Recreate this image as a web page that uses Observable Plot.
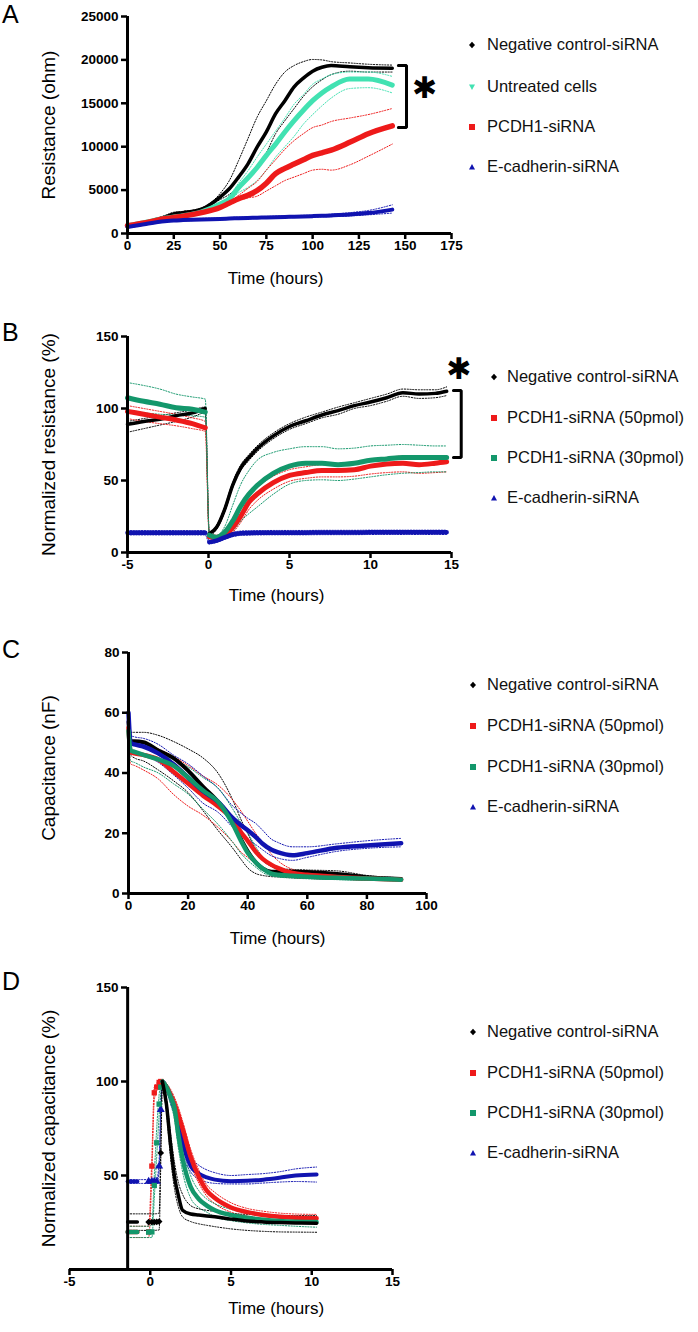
<!DOCTYPE html>
<html><head><meta charset="utf-8">
<script src="https://cdn.jsdelivr.net/npm/d3@7"></script>
<script src="https://cdn.jsdelivr.net/npm/@observablehq/plot@0.6"></script>
<style>
body{margin:0;background:#fff;font-family:"Liberation Sans",Arial,sans-serif;}
#root{position:relative;width:698px;height:1332px;overflow:hidden;background:#fff;}
#root > svg{position:absolute;left:0;}
.letter{position:absolute;font-size:25px;left:2px;line-height:1;}
.leg{position:absolute;font-size:16.5px;white-space:nowrap;line-height:1;color:#111;}
.mk{position:absolute;}
</style></head><body><div id="root"></div><script>
// ---------- Panel A : Resistance (ohm) ----------
const A_time = [0,10,20,25,30,40,50,55,60,65,70,75,80,85,90,95,100,105,110,120,130,143];
const A_neg_mean = [850,1300,1880,2250,2400,2800,4200,5150,6500,8000,9950,11700,13800,15300,16900,17900,18700,19150,19350,19200,19100,19050];
const A_neg_hi   = [950,1400,2050,2450,2550,2950,4600,6100,8400,10900,13400,15300,17200,18600,19350,19800,20050,20000,19800,19650,19500,19400];
const A_neg_lo   = [780,1200,1750,2100,2300,2700,3900,4500,5300,6300,7500,9300,11500,13000,14400,15800,16900,17700,18300,18700,18600,18600];
const A_unt_mean = [900,1300,1750,1900,2050,2500,3400,4000,5300,6400,7600,9000,10300,11700,13000,14200,15300,16200,16900,17800,17800,17100];
const A_unt_hi   = [950,1380,1850,2000,2150,2650,3550,4300,5800,7200,8800,10300,11800,13300,14900,16000,17200,17800,18300,18600,18600,18100];
const A_unt_lo   = [850,1220,1650,1800,1950,2380,3250,3750,4700,5300,6100,7300,8800,10000,11200,12600,13700,14700,15600,16700,16800,16200];
const A_pc_mean  = [900,1250,1700,1850,2000,2400,3000,3500,4000,4400,4950,5800,6900,7500,8000,8500,9000,9300,9600,10500,11500,12400];
const A_pc_hi    = [950,1330,1800,1950,2100,2550,3200,3700,4400,5200,6000,7300,8500,9700,10700,11500,12200,12500,12900,13300,13700,14400];
const A_pc_lo    = [850,1170,1600,1750,1900,2280,2850,3300,3800,4100,4300,4900,5500,6100,6500,6900,7300,7400,7300,7900,8900,10300];
const A_ec_mean  = [750,1100,1400,1500,1550,1620,1680,1720,1760,1790,1820,1850,1880,1910,1940,1970,2000,2040,2080,2180,2350,2750];
const A_ec_hi    = [870,1220,1520,1620,1670,1740,1800,1840,1880,1910,1940,1970,2000,2030,2060,2090,2120,2170,2220,2400,2650,3300];
const A_ec_lo    = [650,1000,1300,1400,1450,1520,1580,1620,1660,1690,1720,1750,1780,1810,1840,1870,1900,1920,1950,2020,2150,2350];
const A_xticks = [0,25,50,75,100,125,150,175];
const A_yticks = [0,5000,10000,15000,20000,25000];
const A_bracket = [{x:146.3,y:19350},{x:150.7,y:19350},{x:150.7,y:12210},{x:146.3,y:12210}];
const A_star = [{x:160.5,y:16700}];

// ---------- Panel B : Normalized resistance (%) ----------
const B_time = [-5,-4,-3,-2,-1,-0.2,0.05,0.5,1,1.5,2,2.5,3,4,5,6,7,8,9,10,11,12,13,14,14.7];
const B_neg_mean = [89,91,92.5,95,97,100,13,17.5,30,47,59,66,72,81,87.5,91.5,95.5,98.5,102,104.5,107.5,111,110,110.5,112];
const B_neg_hi   = [91,93,95,97,99,101,14,19,32,49,61,68,74,83,89.5,94,97.5,101,104,107,110,113.5,113,113,115];
const B_neg_lo   = [83.5,86,88.5,91,94,97,12,16,28,45,57,64,70,79,85.5,89.5,93.5,96,100,102,105,108.5,107,107.5,109];
const B_p50_mean = [98,96,94,92,89.5,86.5,11,10.5,12,17.5,25.5,35,40.5,48.5,53.5,55.5,57,57,57.5,60,61.5,62,61,62,63];
const B_p50_hi   = [102,100,98,96,93.5,91,12,12,14,21,30,39,45,53,57.5,59.5,61,61,62,64.5,66,67,66,66.5,67];
const B_p50_lo   = [93,91,89.5,88,86,84,10,9,10,14,21,30,36,44,49.5,51.5,52.5,52.5,53,54.5,55.5,56,55,55.5,56];
const B_p30_mean = [107.5,105,103,100.5,99.5,97.5,12,10.5,14,22,32.5,40.5,46.5,55,60,62,62,61,62,64,65,66,66,66,66];
const B_p30_hi   = [118,116,113.5,110,108,106.5,13,12,18,33,47.5,57,64,69.5,72,73.5,73.5,72,72.5,74,74.5,75,74.5,74,74];
const B_p30_lo   = [98.5,97,96,95.5,95,94,11,9.5,11,15,22,27,31.5,40.5,47.5,50,50.5,50,51,52.5,54,55,55.5,56,56];
const B_ec_mean  = [13.7,13.7,13.7,13.7,13.7,13.7,7.2,8.3,10.5,12.5,13.4,13.6,13.7,13.8,13.8,13.8,13.9,13.9,13.9,14,14,14,14,14,14];
const B_ec_hi    = [15.2,15.2,15.2,15.2,15.2,15.2,8.4,9.6,11.9,14,14.9,15.1,15.2,15.3,15.3,15.3,15.4,15.4,15.4,15.5,15.5,15.5,15.5,15.5,15.5];
const B_ec_lo    = [12.2,12.2,12.2,12.2,12.2,12.2,6,7,9.1,11,11.9,12.1,12.2,12.3,12.3,12.3,12.4,12.4,12.4,12.5,12.5,12.5,12.5,12.5,12.5];
const B_xticks = [-5,0,5,10,15];
const B_yticks = [0,50,100,150];
const B_bracket = [{x:15.12,y:112.5},{x:15.6,y:112.5},{x:15.6,y:66},{x:15.12,y:66}];
const B_star = [{x:15.45,y:127.5}];

// ---------- Panel C : Capacitance (nF) ----------
const C_time = [0,0.7,2,5,10,15,20,25,30,35,38,40,43,45,48,50,55,60,70,80,91.5];
const C_neg_mean = [57,50.5,50.5,50.2,47.5,45,40.8,35.5,30.5,24,17.5,14,10,8.3,7.2,7.2,7.2,7.1,6.5,5.4,4.8];
const C_neg_hi   = [58,53.5,53.5,53.5,52.5,50.5,48,45,40,31,24,20,14,11,9,8.2,8,7.8,7.5,6,5.2];
const C_neg_lo   = [55,46,45,44,41,37.5,33.5,27.5,21,15,11,8.5,6.5,6,5.6,5.5,5.2,5,4.7,4.5,4.3];
const C_p50_mean = [55,47,46.5,46,44.5,40.5,36.5,32.5,29,24.5,20,17.5,13.5,11.5,9.5,8.5,6.8,6.2,5.5,5,4.6];
const C_p50_hi   = [56,51,50.5,50,48,45.5,42.5,39,36,31,27,24,19.5,17,13,11,8,7,6,5.5,5];
const C_p50_lo   = [53,43,42.5,41,38,33,29,26,22,17,13.5,12,9.5,8,6.8,6,5.3,5,4.8,4.5,4.2];
const C_p30_mean = [54,47.5,47,46,44.5,42.5,38.5,34.2,30.5,23,17,13.5,10,8.3,6.6,6.2,5.9,5.6,5.2,5,4.6];
const C_p30_hi   = [55,50,49.5,48.5,46.5,44.5,42,38.5,35,28,23,20,15,12,9,8,6.8,6.3,5.8,5.4,5];
const C_p30_lo   = [53,44,43.5,42,40,36.5,33,28,23,17,13,11,8.5,7,5.8,5.5,5.1,4.9,4.6,4.4,4.2];
const C_ec_mean  = [60,50,49.5,48.8,46.5,43,38.5,34,30.5,25,22.5,21,18.5,16.5,14.5,13.7,12.7,13.4,15.2,15.9,16.7];
const C_ec_hi    = [61,52.5,52,51.5,49.5,46,43,39,35,29,26.5,25,23,21,18,17,15.5,15.5,16.5,17.5,18.3];
const C_ec_lo    = [59,47.5,47,46,43.5,39.5,35,30,27,22,19.5,18,16,14.5,12.5,11.8,11,12,14,15,15.5];
const C_xticks = [0,20,40,60,80,100];
const C_yticks = [0,20,40,60,80];

// ---------- Panel D : Normalized capacitance (%) ----------
const D_time = [-1.4,-0.8,-0.1,0.1,0.25,0.4,0.55,0.65,0.75,1,1.25,1.5,1.75,2,2.5,3,3.5,4,5,6,7,8,9,10.3];
const D_neg_mean = [25.2,25.2,25.2,25.2,25.2,25.3,25.5,62,100,88,67,49.5,39,31.5,29.5,29,28.5,28,26.8,25.8,25.3,25,24.8,24.6];
const D_neg_hi   = [29.6,29.6,29.6,29.6,29.6,29.7,30,65,101,91,73,57,46,40,34,32.3,31.5,30.8,29.8,29.3,29,28.8,28.7,28.7];
const D_neg_lo   = [20.8,20.8,20.8,20.8,20.8,20.9,21,55,98,84,60,43,33,28,25.5,24.3,23.5,22.8,21.6,20.8,20.3,20,19.9,19.8];
const D_p50_mean = [20,20,20,55,94,97,99.5,100,99.5,97,93,88,82,75,60,49.5,42,38,33,30.5,29,28,27.5,27.3];
const D_p50_hi   = [23,23,23,60,97,99,101,101,101,99,96,91.5,86,79,64,53,45,41,35.5,32.5,31,30,29.5,29.3];
const D_p50_lo   = [17,17,17,50,90,95,98,99,98,95,90,84.5,78,71,56,46,39,35,30.5,28.5,27,26,25.5,25.3];
const D_p30_mean = [19.9,19.9,19.9,20,44.7,67.4,88,97,100,97,92,86,71,59,44,37.5,34,31.5,29,27.5,26.5,25.8,25.4,25.2];
const D_p30_hi   = [23,23,23,24,50,75,93,99,101,99,95,90,77,66,50,42,37.5,35,32,30,29,28.5,28,27.8];
const D_p30_lo   = [17,17,17,17,38,60,82,94,99,95,88,80,64,52,38,33,30.5,28,26,24.8,24,23.5,23,22.5];
const D_ec_mean  = [46.8,46.8,46.8,46.8,46.8,46.8,55,85,100,97,92,86,79,68,55,51,49,47.8,47,47.2,47.8,48.8,50,50.5];
const D_ec_hi    = [47.8,47.8,47.8,47.8,47.8,47.8,58,88,101,99,95,90,84,74,60,55.5,53,51.5,50,50.5,51,52,53.5,54.5];
const D_ec_lo    = [45.8,45.8,45.8,45.8,45.8,45.8,52,82,99,95,89,82,74,62,52,48,46.5,45.8,45.5,45.5,46,46.5,46.8,46.5];
const D_xticks = [-5,0,5,10,15];
const D_yticks = [50,100,150];

// ---------- labels ----------
const NEG = "Negative control-siRNA", UNT = "Untreated cells", PC = "PCDH1-siRNA",
      P50 = "PCDH1-siRNA (50pmol)", P30 = "PCDH1-siRNA (30pmol)", EC = "E-cadherin-siRNA";
const COL = {black:"#000000", teal:"#42e2b2", red:"#ee1a1a", green:"#13976b", blue:"#1013b0"};
const SYM = {diamond: "diamond2", square: "square", up: "triangle", down: "triangle"};

function rows(times, mean, lo, hi, cfg) {
  return times.map((t, i) => {
    let seg = "post";
    if (cfg.split != null && t < cfg.split) seg = "pre";
    if (cfg.rise && t > cfg.rise[0] && t < cfg.rise[1]) seg = "rise";
    else if (cfg.rise && t <= cfg.rise[0]) seg = "pre";
    return {t, mean: mean[i], lo: lo[i], hi: hi[i], seg};
  });
}

const FONT = "Liberation Sans, Arial, Helvetica, sans-serif";

function makePanel(cfg) {
  const marks = [];
  const data = cfg.series.map(s => rows(cfg.times, s.mean, s.lo, s.hi, cfg));
  cfg.series.forEach((s, k) => {
    for (const key of ["lo", "hi"]) {
      marks.push(Plot.line(data[k], {x: "t", y: key, stroke: s.color, strokeWidth: 1, strokeDasharray: "1.2 1.6", curve: "monotone-x"}));
    }
  });
  cfg.series.forEach((s, k) => {
    marks.push(Plot.line(data[k].filter(d => d.seg !== "rise"), {x: "t", y: "mean", z: "seg", stroke: s.color, strokeWidth: s.w, curve: "monotone-x"}));
    if (cfg.rise) {
      marks.push(Plot.dot(data[k].filter(d => d.seg === "rise"), {x: "t", y: "mean", fill: s.color, stroke: null, r: 3, symbol: SYM[s.shape]}));
    }
  });
  // axis lines
  marks.push(Plot.ruleY([cfg.yd[0]], {strokeWidth: 3}));
  marks.push(Plot.ruleX([cfg.yAxisAt], {y1: cfg.yd[0], y2: cfg.yd[1], strokeWidth: 3}));
  // ticks (no library labels)
  marks.push(Plot.axisX({ticks: cfg.xt, tickSize: 6, strokeWidth: 2.5, tickFormat: () => "", label: null}));
  marks.push(Plot.axisY({ticks: cfg.yt, tickSize: 6, strokeWidth: 2.5, tickFormat: () => "", label: null, dx: cfg.yAxisDx || 0}));
  // tick labels
  marks.push(Plot.text(cfg.xt, {x: d => d, text: d => String(d), frameAnchor: "bottom", dy: 16, fontSize: 13.5, fontWeight: 700, fontFamily: FONT, textAnchor: "middle"}));
  marks.push(Plot.text(cfg.yt, {y: d => d, text: d => String(d), frameAnchor: "left", dx: -9 + (cfg.yAxisDx || 0), fontSize: 13.5, fontWeight: 700, fontFamily: FONT, textAnchor: "end"}));
  // titles
  marks.push(Plot.text([cfg.xTitle], {x: [cfg.xTitleX], frameAnchor: "bottom", dy: cfg.xTitleDy, fontSize: 17, fontFamily: FONT, textAnchor: "middle"}));
  marks.push(Plot.text([cfg.yTitle], {frameAnchor: "left", dx: cfg.yTitleDx, dy: cfg.yTitleDy || 0, rotate: -90, fontSize: 19, fontFamily: FONT, textAnchor: "middle"}));
  if (cfg.bracket) {
    marks.push(Plot.line(cfg.bracket, {x: "x", y: "y", strokeWidth: 3, strokeLinejoin: "miter"}));
    marks.push(Plot.text(cfg.star, {x: "x", y: "y", text: () => "✱", fontSize: 30, fontFamily: "DejaVu Sans"}));
  }
  const svg = Plot.plot({
    width: 698, height: cfg.height,
    marginTop: cfg.mt, marginBottom: cfg.mb, marginLeft: cfg.ml, marginRight: cfg.mr,
    x: {domain: cfg.xd}, y: {domain: cfg.yd},
    style: {fontFamily: FONT, background: "transparent", overflow: "visible", color: "#000"},
    marks
  });
  svg.style.top = cfg.top + "px";
  return svg;
}

const root = document.getElementById("root");

const panels = [
  {top: 0, height: 300, mt: 16, mb: 67, ml: 127, mr: 247, xd: [0,175], yd: [0,25000], xt: A_xticks, yt: A_yticks,
   times: A_time, yAxisAt: 0, xTitle: "Time (hours)", xTitleX: 80, xTitleDy: 50, yTitle: "Resistance (ohm)", yTitleDx: -79,
   bracket: A_bracket, star: A_star,
   series: [
     {color: COL.black, w: 3.5, shape: "diamond", mean: A_neg_mean, lo: A_neg_lo, hi: A_neg_hi},
     {color: COL.teal, w: 5, shape: "down", mean: A_unt_mean, lo: A_unt_lo, hi: A_unt_hi},
     {color: COL.red, w: 5.5, shape: "square", mean: A_pc_mean, lo: A_pc_lo, hi: A_pc_hi},
     {color: COL.blue, w: 4, shape: "up", mean: A_ec_mean, lo: A_ec_lo, hi: A_ec_hi}],
   legend: {mx: 472, tx: 487, ys: [45,87,127,167], items: [[NEG, COL.black, "diamond"], [UNT, COL.teal, "down"], [PC, COL.red, "square"], [EC, COL.blue, "up"]]}},
  {top: 320, height: 300, mt: 16, mb: 68, ml: 127, mr: 247, xd: [-5,15], yd: [0,150], xt: B_xticks, yt: B_yticks,
   times: B_time, split: 0, yAxisAt: -5, xTitle: "Time (hours)", xTitleX: 4.2, xTitleDy: 48, yTitle: "Normalized resistance (%)", yTitleDx: -79,
   bracket: B_bracket, star: B_star,
   series: [
     {color: COL.black, w: 3.5, shape: "diamond", mean: B_neg_mean, lo: B_neg_lo, hi: B_neg_hi},
     {color: COL.red, w: 5, shape: "square", mean: B_p50_mean, lo: B_p50_lo, hi: B_p50_hi},
     {color: COL.green, w: 5, shape: "square", mean: B_p30_mean, lo: B_p30_lo, hi: B_p30_hi},
     {color: COL.blue, w: 4.5, shape: "up", mean: B_ec_mean, lo: B_ec_lo, hi: B_ec_hi}],
   legend: {mx: 494, tx: 507, ys: [377,418,458,498], items: [[NEG, COL.black, "diamond"], [P50, COL.red, "square"], [P30, COL.green, "square"], [EC, COL.blue, "up"]]}},
  {top: 640, height: 320, mt: 12, mb: 67, ml: 128, mr: 272, xd: [0,100], yd: [0,80], xt: C_xticks, yt: C_yticks,
   times: C_time, yAxisAt: 0, xTitle: "Time (hours)", xTitleX: 50, xTitleDy: 50, yTitle: "Capacitance (nF)", yTitleDx: -80, yTitleDy: -5,
   series: [
     {color: COL.black, w: 4, shape: "diamond", mean: C_neg_mean, lo: C_neg_lo, hi: C_neg_hi},
     {color: COL.red, w: 4.5, shape: "square", mean: C_p50_mean, lo: C_p50_lo, hi: C_p50_hi},
     {color: COL.blue, w: 4.5, shape: "up", mean: C_ec_mean, lo: C_ec_lo, hi: C_ec_hi},
     {color: COL.green, w: 4.5, shape: "square", mean: C_p30_mean, lo: C_p30_lo, hi: C_p30_hi}],
   legend: {mx: 473, tx: 487, ys: [685,726,767,807], items: [[NEG, COL.black, "diamond"], [P50, COL.red, "square"], [P30, COL.green, "square"], [EC, COL.blue, "up"]]}},
  {top: 970, height: 362, mt: 17, mb: 63, ml: 69, mr: 306, xd: [-5,15], yd: [0,150], xt: D_xticks, yt: D_yticks,
   times: D_time, rise: [-0.5, 0.7], yAxisAt: -1.4, yAxisDx: 58, xTitle: "Time (hours)", xTitleX: 7.8, xTitleDy: 44, yTitle: "Normalized capacitance (%)", yTitleDx: -21,
   series: [
     {color: COL.blue, w: 4, shape: "up", mean: D_ec_mean, lo: D_ec_lo, hi: D_ec_hi},
     {color: COL.red, w: 4.5, shape: "square", mean: D_p50_mean, lo: D_p50_lo, hi: D_p50_hi},
     {color: COL.green, w: 4.5, shape: "square", mean: D_p30_mean, lo: D_p30_lo, hi: D_p30_hi},
     {color: COL.black, w: 3.5, shape: "diamond", mean: D_neg_mean, lo: D_neg_lo, hi: D_neg_hi}],
   legend: {mx: 473, tx: 487, ys: [1032,1073,1113,1153], items: [[NEG, COL.black, "diamond"], [P50, COL.red, "square"], [P30, COL.green, "square"], [EC, COL.blue, "up"]]}}
];

const letters = [["A", 2], ["B", 320], ["C", 637], ["D", 969]];

function marker(shape, color) {
  const ns = "http://www.w3.org/2000/svg";
  const s = document.createElementNS(ns, "svg");
  s.setAttribute("width", 8); s.setAttribute("height", 8); s.setAttribute("viewBox", "-4 -4 8 8");
  s.setAttribute("class", "mk");
  let el;
  if (shape === "square") { el = document.createElementNS(ns, "rect"); el.setAttribute("x", -3); el.setAttribute("y", -3); el.setAttribute("width", 6); el.setAttribute("height", 6); }
  else { el = document.createElementNS(ns, "path");
    el.setAttribute("d", shape === "diamond" ? "M0,-3.3L3,0L0,3.3L-3,0Z" : shape === "up" ? "M0,-3L3,2.6L-3,2.6Z" : "M0,3L3,-2.6L-3,-2.6Z"); }
  el.setAttribute("fill", color);
  s.appendChild(el);
  return s;
}

for (const p of panels) {
  root.appendChild(makePanel(p));
  const L = p.legend;
  L.items.forEach(([label, color, shape], i) => {
    const m = marker(shape, color);
    m.style.left = (L.mx - 4) + "px"; m.style.top = (L.ys[i] - 4) + "px";
    root.appendChild(m);
    const d = document.createElement("div");
    d.className = "leg"; d.textContent = label;
    d.style.left = L.tx + "px"; d.style.top = (L.ys[i] - 9) + "px";
    root.appendChild(d);
  });
}
for (const [t, y] of letters) {
  const d = document.createElement("div");
  d.className = "letter"; d.textContent = t; d.style.top = y + "px";
  root.appendChild(d);
}
</script></body></html>
